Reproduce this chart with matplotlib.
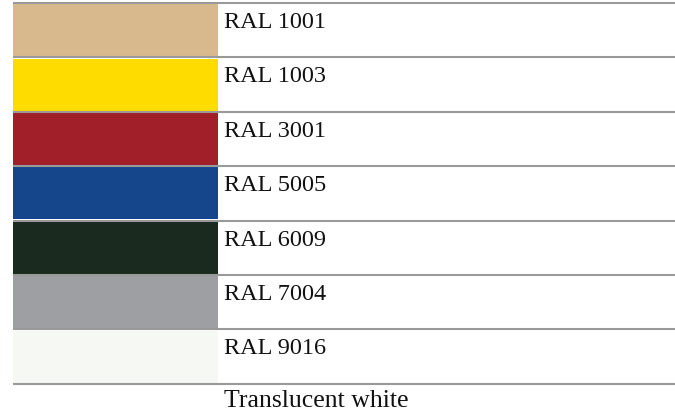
import matplotlib
matplotlib.use("Agg")
import matplotlib.pyplot as plt
import numpy as np

# colour swatch table
labels = ["RAL 1001", "RAL 1003", "RAL 3001", "RAL 5005", "RAL 6009", "RAL 7004", "RAL 9016"]
colors = ["#D8B98D", "#FEDC00", "#A11F29", "#15468B", "#1A2A1E", "#9E9FA2", "#F5F8F3"]
last_label = "Translucent white"

row_px = 54.4
top_px = 4.0
W, H = 675, 414

fig = plt.figure(figsize=(W / 100, H / 100), dpi=100)
ax = fig.add_axes([0, 0, 1, 1])
ax.set_xlim(0, W)
ax.set_ylim((H - top_px) / row_px, -top_px / row_px)
ax.axis("off")

rows = np.arange(len(labels))
ax.barh(rows + 0.5, width=205, left=13, height=0.955, color=colors, edgecolor="none", zorder=1)

# horizontal rules
ax.hlines(np.arange(len(labels) + 1), 13, W, color="#999999", linewidth=1.5, zorder=2)

for i, lab in enumerate(labels):
    ax.text(224, i + 24 / row_px, lab, fontsize=17.5, family="Liberation Serif",
            color="#111111", va="baseline", ha="left")
ax.text(224, len(labels) + 22.5 / row_px, last_label, fontsize=18.5, family="Liberation Serif",
        color="#111111", va="baseline", ha="left")

fig.savefig("out.png", dpi=100)
